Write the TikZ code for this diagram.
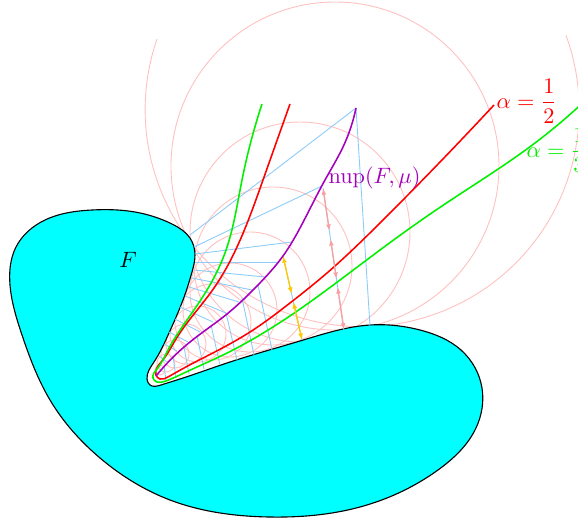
\documentclass[tikz,border=0pt]{standalone}
\usepackage{amsmath, amssymb}
\usepackage{tikz}
\usetikzlibrary{arrows.meta, hobby}

\definecolor{fillcyan}{RGB}{0,255,255}
\definecolor{alphagreen}{RGB}{0,240,0}
\definecolor{alphared}{RGB}{255,0,0}
\definecolor{circpink}{RGB}{255,192,192}
\definecolor{normblue}{RGB}{140,204,248}
\definecolor{nupviolet}{RGB}{165,0,190}
\definecolor{halfyellow}{RGB}{255,200,0}
\definecolor{thirdpink}{RGB}{248,160,160}

\begin{document}
\begin{tikzpicture}[x=0.45pt, y=-0.45pt,
    circ/.style={circpink, line width=0.4pt},
    normal/.style={normblue, line width=0.4pt},
    curve/.style={line width=0.7pt},
    halfarrow/.style={halfyellow, line width=0.6pt, {Latex[length=3pt,width=2.2pt]}-{Latex[length=3pt,width=2.2pt]}},
    thirdarrow/.style={thirdpink, line width=0.6pt, {Latex[length=3pt,width=2.2pt]}-{Latex[length=3pt,width=2.2pt]}}]

    \useasboundingbox (0,0) rectangle (578,523);

    % Tangent circles
    \draw[circ] (157,39) arc[start angle=-161, end angle=-380, radius=217];
    \foreach \cx/\cy/\r in {335/166/164, 300/232/110, 273/266/79, 250/292/60,
        230/310/47, 213/322/38, 198/334/28, 186/344/20, 175/354/14, 166/363/9, 160/370/5}
        \draw[circ] (\cx,\cy) circle[radius=\r];

    % The set F
    \filldraw[fill=fillcyan, draw=black, line width=0.5pt] plot[closed hobby] coordinates {
        (147,379) (154,362) (169,333) (183,300) (192,272) (195,255) (190,238) (172,224)
        (135,212) (92,210) (45,220) (16,247) (10,285) (22,335) (50,400)
        (100,458) (170,500) (269,517) (360,507) (438,470) (476,428) (482,388)
        (461,350) (420,330) (370,325) (300,341) (230,362) (180,379) (161,385) (150,385)};
    \node (lblF) at (128,260) {$F$};

    % Normals to the upper side
    \foreach \ux/\uy/\px/\py in {190/235/356/108, 194/247/322/186, 195/254/292/242,
        195/262/278/262, 194/270/265/277, 192/278/252/290, 189/287/239/302,
        185/296/226/313, 180/307/213/322, 175/319/200/332, 169/332/188/342,
        164/344/177/351, 159/356/167/362}
        \draw[normal] (\ux,\uy) -- (\px,\py);

    % Normals to the lower side
    \foreach \px/\py/\lx/\ly in {356/108/370/326, 323/188/344/330, 283/256/302/340,
        258/285/272/350, 242/298/254/355, 226/313/237/360, 211/325/220/365,
        197/336/204/369, 184/347/189/374, 173/356/176/378, 164/365/166/381}
        \draw[normal] (\px,\py) -- (\lx,\ly);

    % alpha = 1/2
    \draw[curve, alphared] plot[hobby] coordinates {
        (290,104) (263,180) (237,247) (214,288) (194,314) (176,339) (162,361)
        (156,375) (160,379) (168,377) (184,368) (207,356) (250,332)
        (290,303) (327,273) (380,223) (494,105)};
    \node[alphared, anchor=west, inner sep=1pt] (lblhalf) at (494,101) {$\alpha=\dfrac{1}{2}$};

    % alpha = 1/3
    \draw[curve, alphagreen] plot[hobby] coordinates {
        (262,104) (242,180) (225,253) (207,290) (187,320) (168,350) (157,369)
        (153,378) (157,382) (166,381) (184,373) (223,355) (273,327)
        (317,297) (380,250) (442,206) (531,146) (590,96)};
    \node[alphagreen, anchor=west, inner sep=1pt] (lblthird) at (524,150) {$\alpha=\dfrac{1}{3}$};

    % nup(F, mu)
    \draw[curve, nupviolet] plot[hobby] coordinates {
        (156,376) (190,342) (227,314) (257,286) (283,256) (300,228) (325,180)
        (343,147) (356,108)};
    \node[nupviolet, anchor=west, inner sep=1pt] (lblnup) at (326,178) {$\mathrm{nup}(F,\mu)$};

    % Split of two normals
    \coordinate (yP) at (283,256);
    \coordinate (yM) at (292.5,298);
    \coordinate (yL) at (302,340);
    \draw[halfarrow, shorten >=1.8pt] (yP) -- (yM);
    \draw[halfarrow, shorten <=1.8pt] (yM) -- (yL);

    \coordinate (pP) at (323,188);
    \coordinate (pA) at (330,235);
    \coordinate (pB) at (337,283);
    \coordinate (pL) at (344,330);
    \draw[thirdarrow, shorten >=1.8pt] (pP) -- (pA);
    \draw[thirdarrow, shorten <=1.8pt, shorten >=1.8pt] (pA) -- (pB);
    \draw[thirdarrow, shorten <=1.8pt] (pB) -- (pL);

\end{tikzpicture}
\end{document}
